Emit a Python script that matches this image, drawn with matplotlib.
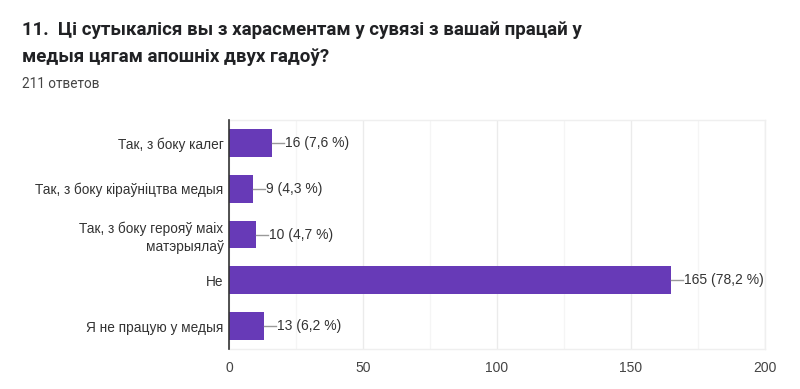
import matplotlib
matplotlib.use("Agg")
import matplotlib.pyplot as plt

categories = ["Так, з боку калег", "Так, з боку кіраўніцтва медыя",
              "Так, з боку герояў маіх\nматэрыялаў", "Не", "Я не працую у медыя"]
values = [16, 9, 10, 165, 13]
value_labels = ["16 (7,6 %)", "9 (4,3 %)", "10 (4,7 %)", "165 (78,2 %)", "13 (6,2 %)"]
xticks = [0, 50, 100, 150, 200]
title = "11.  Ці сутыкаліся вы з харасментам у сувязі з вашай працай у\nмедыя цягам апошніх двух гадоў?"
subtitle = "211 ответов"

sans = "Liberation Sans"
fig = plt.figure(figsize=(8, 3.89), dpi=100)
fig.patch.set_facecolor("white")
ax = fig.add_axes([229/800, 1-349/389, (765-229)/800, (349-120)/389])

y = list(range(len(categories)))
ax.barh(y, values, height=0.61, color="#673ab7", zorder=3)
ax.set_ylim(len(categories)-0.5, -0.5)
ax.set_xlim(0, 200)

for i, (v, lab) in enumerate(zip(values, value_labels)):
    ax.plot([v, v + 4.5], [i, i], color="#999999", lw=1, zorder=4, clip_on=False)
    ax.text(v + 4.8, i, lab, va="center", ha="left", fontsize=10,
            family=sans, color="#333333")

ax.set_yticks(y)
ax.set_yticklabels(categories, fontsize=9.8, family=sans, color="#333333")
for t in ax.get_yticklabels():
    t.set_multialignment("right")
    t.set_linespacing(1.3)
ax.tick_params(axis="y", length=0, pad=4)
ax.set_xticks(xticks)
ax.set_xticklabels([str(t) for t in xticks], fontsize=10, family=sans, color="#444444")
ax.tick_params(axis="x", length=0, pad=9)
ax.set_xticks([25, 75, 125, 175], minor=True)
ax.tick_params(axis="x", which="minor", length=0)
ax.grid(axis="x", which="major", color="#ebebeb", lw=1, zorder=0)
ax.grid(axis="x", which="minor", color="#f5f5f5", lw=1, zorder=0)

ax.spines["left"].set_color("#333333")
ax.spines["left"].set_linewidth(1.2)
ax.spines["left"].set_zorder(5)
for s in ["top", "bottom", "right"]:
    ax.spines[s].set_color("#efefef")
    ax.spines[s].set_linewidth(1)

fig.text(22/800, 1-21/389, title, ha="left", va="top", fontsize=13.5,
         family="Roboto", weight="bold", color="#202124", linespacing=1.62)
fig.text(22/800, 1-84/389, subtitle, ha="left", va="center", fontsize=9.8,
         family="Roboto", color="#444444")

fig.savefig("out.png", dpi=100, facecolor="white")
